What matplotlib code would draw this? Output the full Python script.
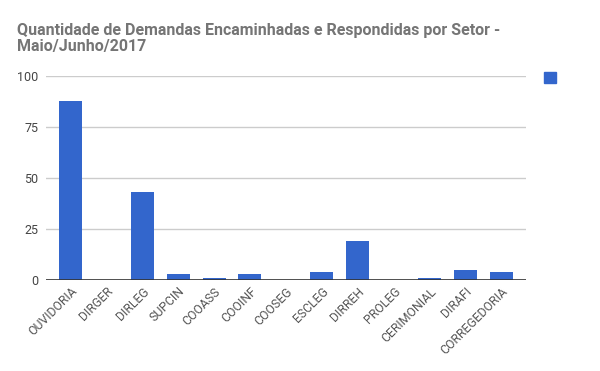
import matplotlib.pyplot as plt
from matplotlib.patches import Rectangle

setores = ["OUVIDORIA", "DIRGER", "DIRLEG", "SUPCIN", "COOASS", "COOINF", "COOSEG",
           "ESCLEG", "DIRREH", "PROLEG", "CERIMONIAL", "DIRAFI", "CORREGEDORIA"]
demandas = [88, 0, 43, 3, 1, 3, 0, 4, 19, 0, 1, 5, 4]
yticks = [0, 25, 50, 75, 100]

plt.rcParams['font.family'] = ['Roboto', 'DejaVu Sans']

fig = plt.figure(figsize=(6, 3.71), dpi=100)
ax = fig.add_axes([0.076, 0.245, 0.801, 0.55])

x = range(len(setores))
ax.bar(x, demandas, width=0.64, color='#3366cc', zorder=3)

ax.set_ylim(0, 100)
ax.set_xlim(-0.69, len(setores) - 0.31)
ax.set_yticks(yticks)
ax.yaxis.grid(True, color='#cccccc', linewidth=1)
ax.axhline(0, color='#333333', linewidth=1.2, zorder=4)
for s in ax.spines.values():
    s.set_visible(False)
ax.tick_params(axis='both', length=0, colors='#444444', labelsize=9)
ax.tick_params(axis='y', pad=5)
ax.set_xticks(list(x))
ax.set_xticklabels(setores, rotation=45, ha='right', rotation_mode='anchor', fontsize=8.8, color='#555555')

fig.text(0.028, 0.897, "Quantidade de Demandas Encaminhadas e Respondidas por Setor -\nMaio/Junho/2017",
         fontsize=11.5, fontweight='bold', color='#757575', va='center', linespacing=1.1)

# legend marker without text
fig.patches.append(Rectangle((0.907, 0.775), 0.02, 0.032, transform=fig.transFigure,
                             color='#3366cc', figure=fig))

fig.savefig("out.png", dpi=100)
